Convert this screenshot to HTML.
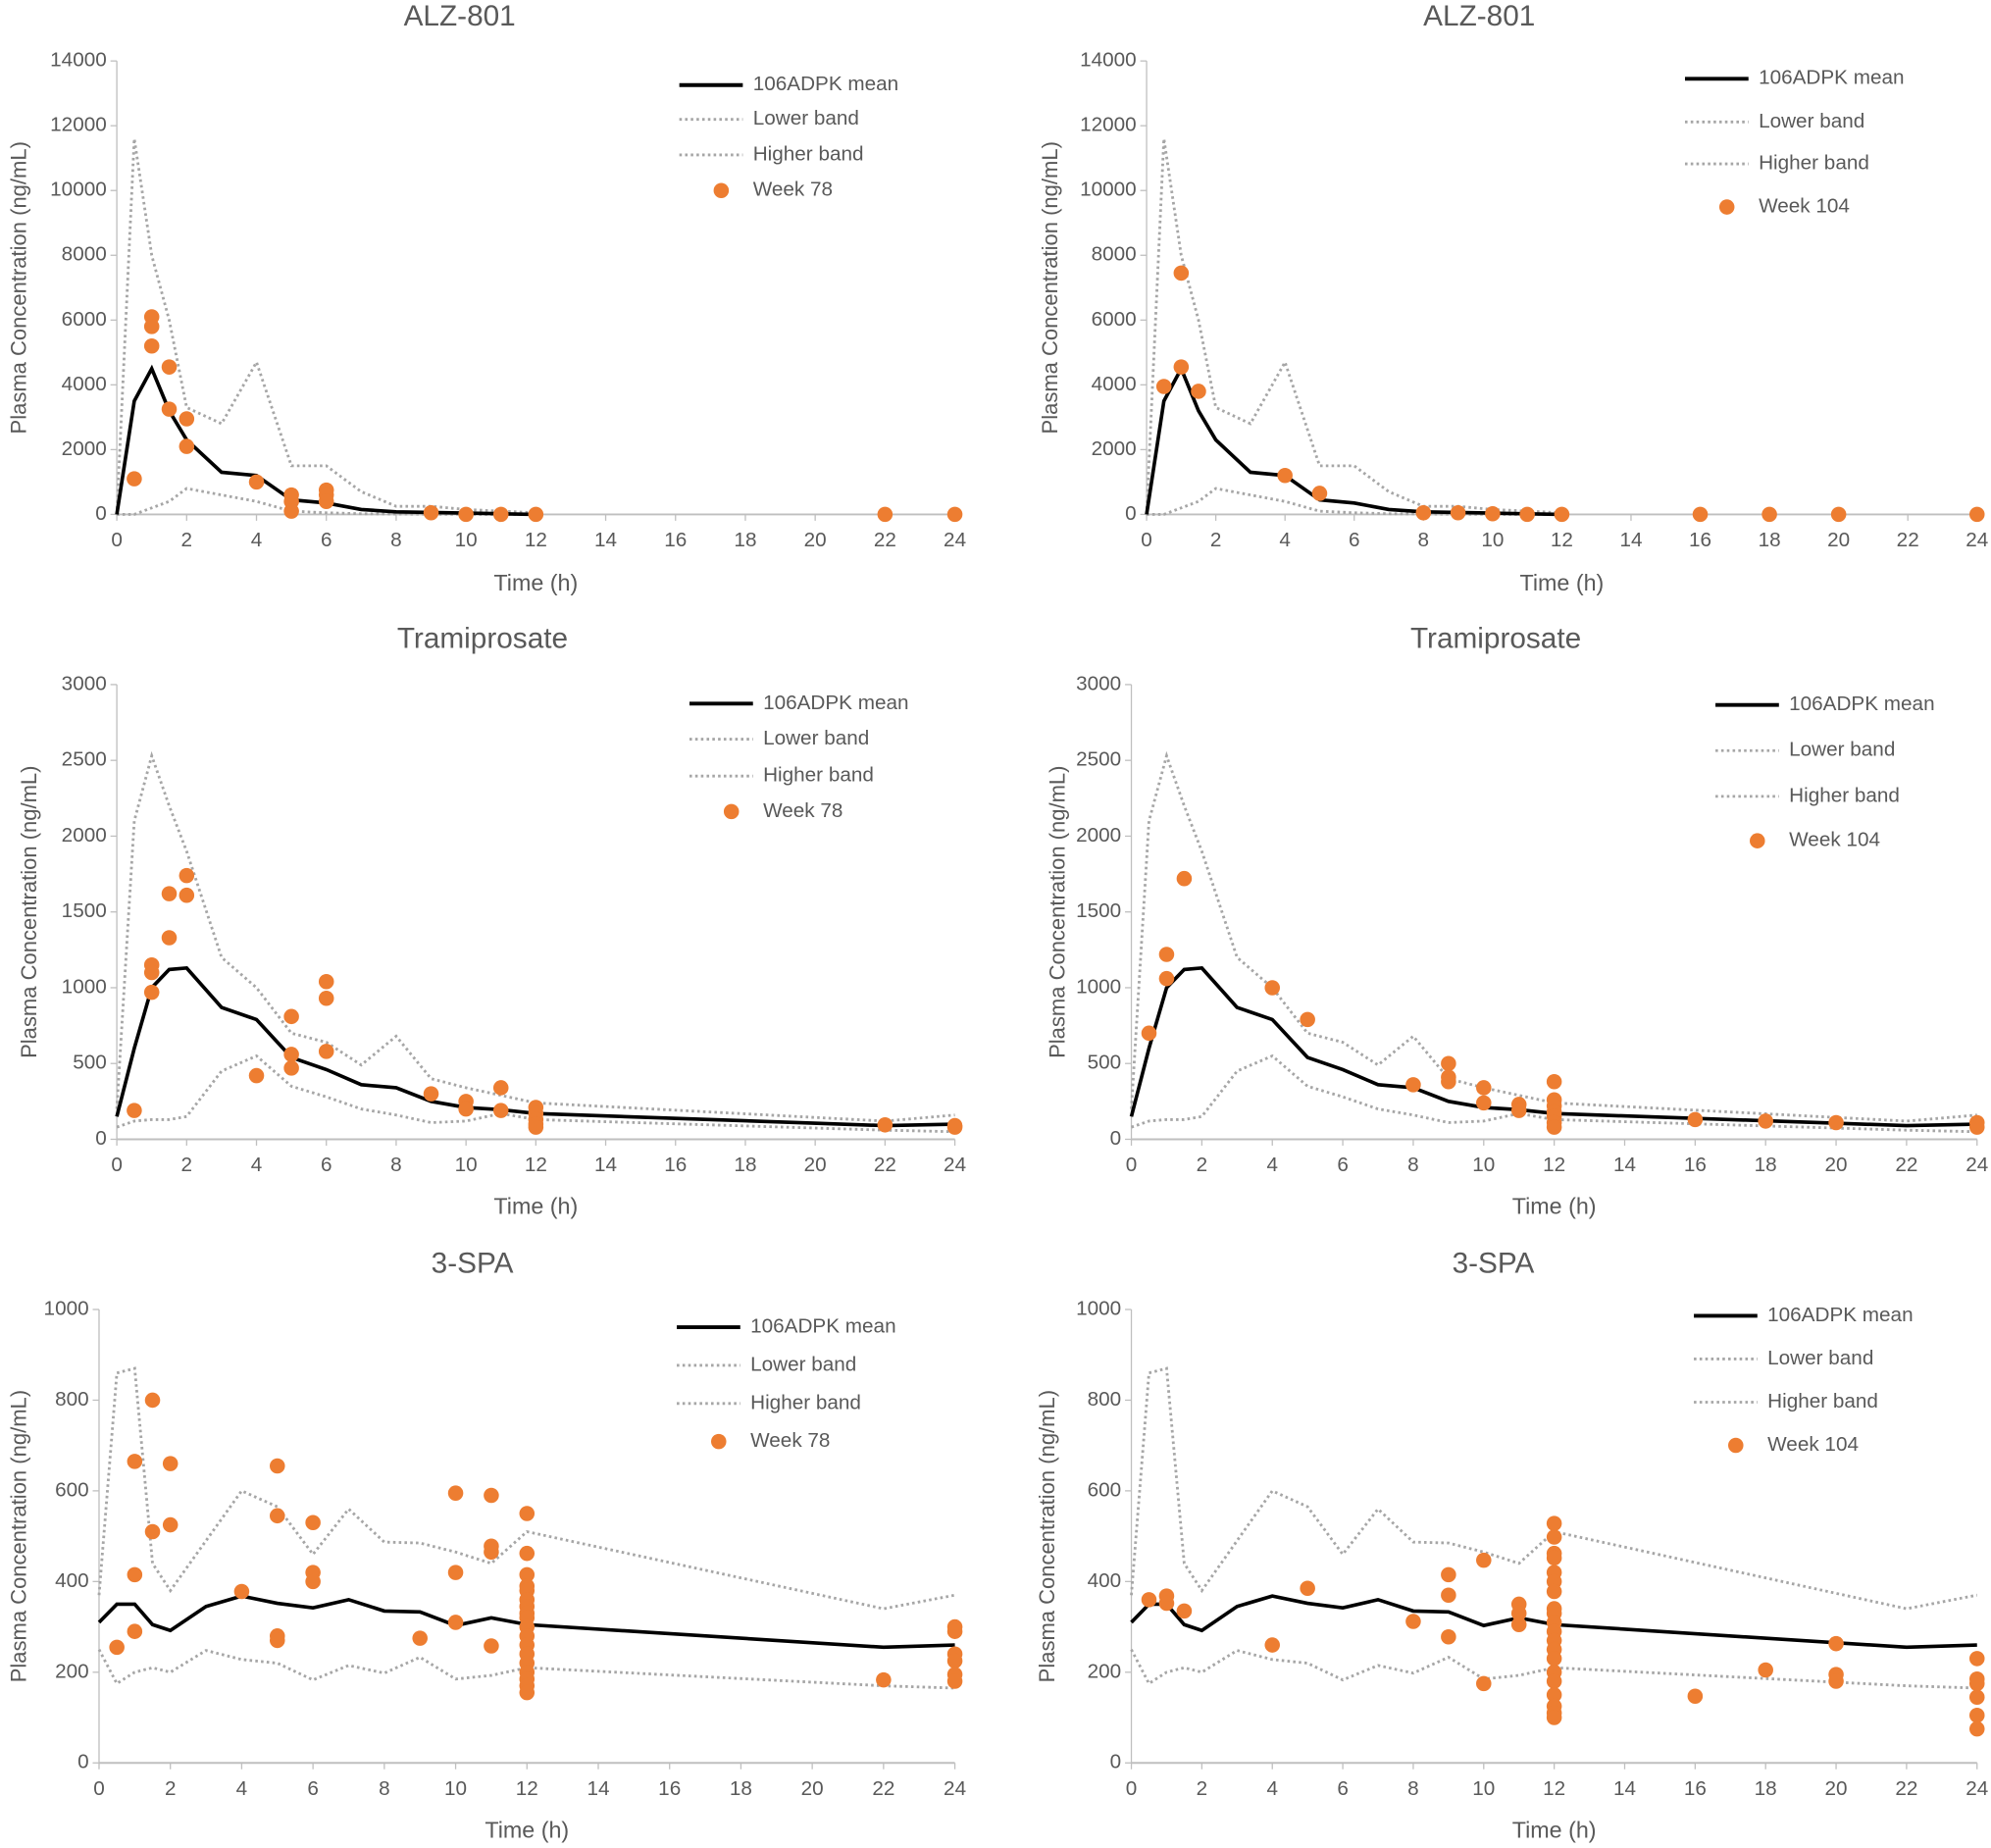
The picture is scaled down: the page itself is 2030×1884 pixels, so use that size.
<!DOCTYPE html>
<html><head><meta charset="utf-8"><style>
html,body{margin:0;padding:0;background:#fff}
svg{display:block}
text{font-family:"Liberation Sans",sans-serif;fill:#595959}
</style></head><body>
<svg id="fig" width="2030" height="1884" viewBox="0 0 1568 1455" preserveAspectRatio="none" xmlns="http://www.w3.org/2000/svg"></svg>
<script>
// ---- data ----
const xTicks=[0,2,4,6,8,10,12,14,16,18,20,22,24];
const alzT=[0,0.5,1,1.5,2,3,4,5,6,7,8,9,10,11,12];
const alzMean=[0,3500,4500,3200,2300,1300,1200,450,350,150,80,60,40,20,0];
const alzHigh=[0,11600,8000,6000,3300,2800,4700,1500,1500,700,250,250,150,100,50];
const alzLow=[0,0,200,400,800,600,400,100,50,20,10,5,0,0,0];
const alzW78x=[0.5,1,1,1,1.5,1.5,2,2,4,5,5,5,6,6,6,9,10,11,12,22,24];
const alzW78y=[1100,6100,5800,5200,4550,3250,2950,2100,1000,600,400,100,750,600,400,50,0,0,0,0,0];
const alzW104x=[0.5,1,1,1.5,4,5,8,9,10,11,12,16,18,20,24];
const alzW104y=[3950,7450,4550,3800,1200,650,50,50,20,0,0,0,0,0,0];
const alzYTicks=[0,2000,4000,6000,8000,10000,12000,14000];

const trT=[0,0.5,1,1.5,2,3,4,5,6,7,8,9,10,11,12,22,24];
const trMean=[150,600,1000,1120,1130,870,790,540,460,360,340,250,210,195,170,90,100];
const trHigh=[200,2100,2530,2200,1900,1200,1000,700,640,490,680,400,340,290,240,120,160];
const trLow=[80,120,130,130,150,450,550,350,280,200,160,110,120,170,130,60,50];
const trW78x=[0.5,1,1,1,1.5,1.5,2,2,4,5,5,5,6,6,6,9,10,10,11,11,12,12,12,12,12,22,24,24];
const trW78y=[190,1150,1100,970,1620,1330,1740,1610,420,810,560,470,1040,930,580,300,250,200,340,190,210,170,130,100,80,95,90,80];
const trW104x=[0.5,1,1,1.5,4,5,8,9,9,9,10,10,11,11,12,12,12,12,12,12,12,16,18,20,24,24];
const trW104y=[700,1220,1060,1720,1000,790,360,500,410,380,340,240,230,190,380,260,220,180,150,110,80,130,120,110,110,80];
const trYTicks=[0,500,1000,1500,2000,2500,3000];

const spT=[0,0.5,1,1.5,2,3,4,5,6,7,8,9,10,11,12,22,24];
const spMean=[310,350,350,305,292,345,368,352,342,360,335,333,303,320,305,255,260];
const spHigh=[370,860,870,440,380,490,600,565,460,560,487,485,465,440,510,340,370];
const spLow=[250,175,200,210,200,248,228,220,183,215,198,233,185,193,210,170,165];
const spW78x=[0.5,1,1,1,1.5,1.5,2,2,4,5,5,5,5,6,6,6,9,10,10,10,11,11,11,11,12,12,12,12,12,12,12,12,12,12,12,12,12,12,12,12,12,12,22,24,24,24,24,24,24];
const spW78y=[255,665,415,290,800,510,660,525,378,655,545,280,270,530,420,400,275,595,420,310,590,478,465,258,550,462,415,390,380,360,345,330,320,300,280,260,240,220,200,185,170,155,183,300,290,240,225,195,180];
const spW104x=[0.5,1,1,1.5,4,5,8,9,9,9,10,10,11,11,11,12,12,12,12,12,12,12,12,12,12,12,12,12,12,12,12,12,12,12,12,16,18,20,20,20,24,24,24,24,24,24];
const spW104y=[360,368,352,335,260,385,312,415,370,278,447,175,350,330,305,528,498,462,452,420,400,378,340,330,310,290,270,250,230,200,180,150,125,110,100,147,205,263,195,180,230,185,175,145,105,75];
const spYTicks=[0,200,400,600,800,1000];

// ---- layout ----
const panels=[
 {name:'alz801-week78',title:'ALZ-801',titleX:362,titleY:14,x0:92,x1:752,yb:405,yt:48,ymax:14000,yticks:alzYTicks,t:alzT,mean:alzMean,high:alzHigh,low:alzLow,px:alzW78x,py:alzW78y,wk:'Week 78',ytX:10,lgX:535,lgY:[67,94,122,150],timeY:466},
 {name:'alz801-week104',title:'ALZ-801',titleX:1165,titleY:14,x0:903,x1:1557,yb:405,yt:48,ymax:14000,yticks:alzYTicks,t:alzT,mean:alzMean,high:alzHigh,low:alzLow,px:alzW104x,py:alzW104y,wk:'Week 104',ytX:822,lgX:1327,lgY:[62,96,129,163],timeY:466},
 {name:'tramiprosate-week78',title:'Tramiprosate',titleX:380,titleY:504,x0:92,x1:752,yb:897,yt:539,ymax:3000,yticks:trYTicks,t:trT,mean:trMean,high:trHigh,low:trLow,px:trW78x,py:trW78y,wk:'Week 78',ytX:18,lgX:543,lgY:[554,582,611,639],timeY:957},
 {name:'tramiprosate-week104',title:'Tramiprosate',titleX:1178,titleY:504,x0:891,x1:1557,yb:897,yt:539,ymax:3000,yticks:trYTicks,t:trT,mean:trMean,high:trHigh,low:trLow,px:trW104x,py:trW104y,wk:'Week 104',ytX:828,lgX:1351,lgY:[555,591,627,662],timeY:957},
 {name:'3spa-week78',title:'3-SPA',titleX:372,titleY:996,x0:78,x1:752,yb:1388,yt:1031,ymax:1000,yticks:spYTicks,t:spT,mean:spMean,high:spHigh,low:spLow,px:spW78x,py:spW78y,wk:'Week 78',ytX:10,lgX:533,lgY:[1045,1075,1105,1135],timeY:1448},
 {name:'3spa-week104',title:'3-SPA',titleX:1176,titleY:996,x0:891,x1:1557,yb:1388,yt:1031,ymax:1000,yticks:spYTicks,t:spT,mean:spMean,high:spHigh,low:spLow,px:spW104x,py:spW104y,wk:'Week 104',ytX:820,lgX:1334,lgY:[1036,1070,1104,1138],timeY:1448}
];
const NS='http://www.w3.org/2000/svg';
const svg=document.getElementById('fig');
function mk(tag,attrs,parent){const e=document.createElementNS(NS,tag);for(const k in attrs)e.setAttribute(k,attrs[k]);(parent||svg).appendChild(e);return e;}
panels.forEach(p=>{
 const g=mk('g',{});
 
 
 const sx=v=>p.x0+(p.x1-p.x0)*v/24;
 const sy=v=>p.yb-(p.yb-p.yt)*v/p.ymax;
 const ti=mk('text',{x:p.titleX,y:p.titleY,'text-anchor':'middle','font-size':23,'dominant-baseline':'middle'},g);ti.textContent=p.title;
 
 
 const ya=mk('line',{x1:p.x0,y1:p.yt,x2:p.x0,y2:p.yb,stroke:'#bfbfbf','stroke-width':1},g);
 
 
 const xa=mk('line',{x1:p.x0,y1:p.yb,x2:p.x1,y2:p.yb,stroke:'#bfbfbf','stroke-width':1.5},g);
 
 
 p.yticks.forEach(v=>{
  mk('line',{x1:p.x0-5,y1:sy(v),x2:p.x0,y2:sy(v),stroke:'#bfbfbf'},g);
  const t=mk('text',{x:p.x0-8,y:sy(v),'text-anchor':'end','dominant-baseline':'middle','font-size':16},g);t.textContent=v;
  
  
 });
 xTicks.forEach(v=>{
  mk('line',{x1:sx(v),y1:p.yb,x2:sx(v),y2:p.yb+5,stroke:'#bfbfbf'},g);
  const t=mk('text',{x:sx(v),y:p.yb+21,'text-anchor':'middle','dominant-baseline':'middle','font-size':16},g);t.textContent=v;
  
  
 });
 const xt=mk('text',{x:(p.x0+p.x1)/2,y:p.timeY-6,'text-anchor':'middle','dominant-baseline':'middle','font-size':18},g);xt.textContent='Time (h)';
 
 
 const ycy=(p.yt+p.yb)/2;
 const yt=mk('text',{x:p.ytX+6,y:ycy,'text-anchor':'middle','dominant-baseline':'middle','font-size':17,transform:`rotate(-90 ${p.ytX+6} ${ycy})`},g);yt.textContent='Plasma Concentration (ng/mL)';
 
 
 const pts=a=>p.t.map((t,i)=>sx(t)+','+sy(a[i])).join(' ');
 const hi=mk('polyline',{points:pts(p.high),fill:'none',stroke:'#a6a6a6','stroke-width':2.2,'stroke-dasharray':'2 2.5'},g);
 
 
 const lo=mk('polyline',{points:pts(p.low),fill:'none',stroke:'#a6a6a6','stroke-width':2.2,'stroke-dasharray':'2 2.5'},g);
 
 
 const me=mk('polyline',{points:pts(p.mean),fill:'none',stroke:'#000','stroke-width':2.8},g);
 
 
 p.px.forEach((x,i)=>{
  const c=mk('circle',{cx:sx(x),cy:sy(p.py[i]),r:6,fill:'#ed7d31'},g);
  
  
 });
 const L=p.lgX, ly=p.lgY;
 mk('line',{x1:L,y1:ly[0],x2:L+50,y2:ly[0],stroke:'#000','stroke-width':3},g);
 mk('line',{x1:L,y1:ly[1],x2:L+50,y2:ly[1],stroke:'#a6a6a6','stroke-width':2.2,'stroke-dasharray':'2 2.5'},g);
 mk('line',{x1:L,y1:ly[2],x2:L+50,y2:ly[2],stroke:'#a6a6a6','stroke-width':2.2,'stroke-dasharray':'2 2.5'},g);
 mk('circle',{cx:L+33,cy:ly[3],r:6,fill:'#ed7d31'},g);
 ['106ADPK mean','Lower band','Higher band',p.wk].forEach((s,i)=>{
  const t=mk('text',{x:L+58,y:ly[i],'dominant-baseline':'middle','font-size':16},g);t.textContent=s;
  
  
 });
});
</script>
</body></html>
